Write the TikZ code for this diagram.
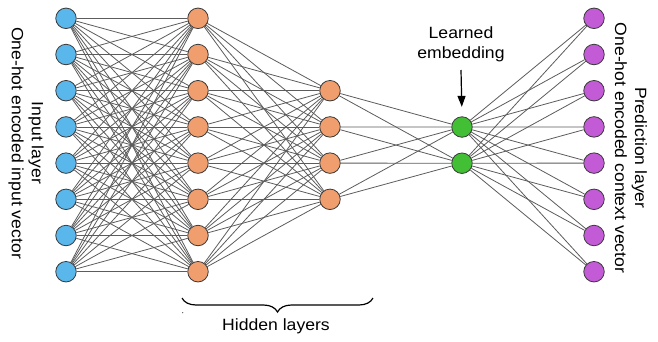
\documentclass[tikz,border=0pt]{standalone}
\usepackage{graphicx}
\usepackage{fontspec}
\setmainfont{Liberation Sans}
\usetikzlibrary{backgrounds,decorations.pathreplacing,arrows.meta}
\definecolor{cin}{HTML}{5AB7EB}
\definecolor{chid}{HTML}{F09E6D}
\definecolor{cemb}{HTML}{43BF35}
\definecolor{cout}{HTML}{C35BD6}
\definecolor{cbord}{HTML}{3A3A3A}
\definecolor{cedge}{HTML}{5C5C5C}
\newcommand{\wt}[1]{\scalebox{1.08}[1]{#1}}
\tikzset{
  neuron/.style={circle, draw=cbord, line width=0.8pt, minimum size=20.5pt, inner sep=0pt},
  inp/.style={neuron, fill=cin},
  hid/.style={neuron, fill=chid},
  emb/.style={neuron, fill=cemb},
  outp/.style={neuron, fill=cout},
  edge/.style={draw=cedge, line width=0.8pt},
  lbl/.style={font=\fontsize{16.3}{20}\selectfont, align=center, inner sep=0pt}
}
\begin{document}
\begin{tikzpicture}[x=1pt, y=-1pt]
\useasboundingbox (0,0) rectangle (658,341);
% nodes
\foreach \i in {0,...,7} {
  \node[inp]  (a\i) at (66,  {18.3+36.2*\i}) {};
  \node[hid]  (b\i) at (198, {18.3+36.2*\i}) {};
  \node[outp] (o\i) at (594, {18.3+36.2*\i}) {};
}
\foreach \i in {2,...,5} {
  \node[hid] (c\i) at (330, {18.3+36.2*\i}) {};
}
\node[emb] (e0) at (462, 127) {};
\node[emb] (e1) at (462, 163.2) {};
% edges
\begin{scope}[on background layer]
\foreach \i in {0,...,7} {
  \foreach \j in {0,...,7} { \draw[edge] (a\i) -- (b\j); }
  \foreach \j in {2,...,5} { \draw[edge] (b\i) -- (c\j); }
  \foreach \j in {0,1} { \draw[edge] (e\j) -- (o\i); }
}
\foreach \i in {2,...,5} {
  \foreach \j in {0,1} { \draw[edge] (c\i) -- (e\j); }
}
\end{scope}
% labels
\node[lbl, rotate=-90] (inlbl) at (26, 143) {\wt{Input layer}\\ \wt{One-hot encoded input vector}};
\node[lbl, rotate=-90] (outlbl) at (631, 148) {\wt{Prediction layer}\\ \wt{One-hot encoded context vector}};
\node[lbl] (emblbl) at (461, 44) {\wt{Learned}\\ \wt{embedding}};
\coordinate (arrtop) at (461, 70);
\draw[line width=1.2pt, -{Triangle[width=8pt,length=11pt]}, shorten >=9.5pt] (arrtop) -- (e0.north);
% brace
\coordinate (bl) at (182, 298);
\coordinate (br) at (373, 298);
\draw[line width=1.2pt, decorate, decoration={brace, amplitude=14pt, mirror}] (bl) -- (br);
\node[lbl] (hidlbl) at (276, 326) {\wt{Hidden layers}};
\fill[cedge] (182.7, 312.7) circle (0.7);
\end{tikzpicture}
\end{document}
